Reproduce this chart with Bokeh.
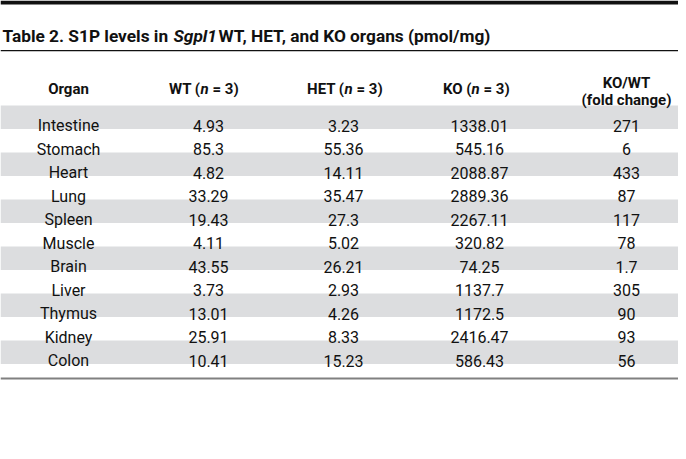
from bokeh.plotting import figure
from bokeh.models import ColumnDataSource, Range1d
from bokeh.core.properties import value
from bokeh.embed import file_html
from bokeh.resources import INLINE

# ---- data ----
organs = ["Intestine", "Stomach", "Heart", "Lung", "Spleen", "Muscle",
          "Brain", "Liver", "Thymus", "Kidney", "Colon"]
wt = [4.93, 85.3, 4.82, 33.29, 19.43, 4.11, 43.55, 3.73, 13.01, 25.91, 10.41]
het = [3.23, 55.36, 14.11, 35.47, 27.3, 5.02, 26.21, 2.93, 4.26, 8.33, 15.23]
ko = [1338.01, 545.16, 2088.87, 2889.36, 2267.11, 320.82, 74.25, 1137.7,
      1172.5, 2416.47, 586.43]
fold = [271, 6, 433, 87, 117, 78, 1.7, 305, 90, 93, 56]

title_parts = ["Table 2. S1P levels in", "Sgpl1", "WT, HET, and KO organs (pmol/mg)"]
header_plain = ["Organ"]
header_n = [("WT (", "n", "= 3)"), ("HET (", "n", "= 3)"), ("KO (", "n", "= 3)")]
header_fold = ["KO/WT", "(fold change)"]

# ---- layout (pixel-like coordinates) ----
FONT = value("Roboto")
TXT = "#111111"
W, H = 678, 443
col_x = [68, 208, 343, 479, 626]
n_anchor = [200, 344, 471]
row0_base = 125
row_h = 23.5
band0_top = 105

p = figure(width=W, height=H, x_range=Range1d(0, W), y_range=Range1d(H, 0),
           output_backend="svg", toolbar_location=None, min_border=0)
p.axis.visible = False
p.grid.visible = False
p.outline_line_color = None
p.background_fill_color = "white"
p.border_fill_color = "white"

# top thick bar, thin rule, bottom rule
p.quad(left=[0], right=[W], top=[0], bottom=[4], fill_color="#111111", line_color=None)
p.quad(left=[0], right=[W], top=[49.5], bottom=[50.7], fill_color="#111111", line_color=None)
p.quad(left=[0], right=[W], top=[377], bottom=[379], fill_color="#808080", line_color=None)

# shaded bands on alternate rows
nrows = len(organs)
band_idx = [i for i in range(nrows) if i % 2 == 0]
p.quad(left=[0] * len(band_idx), right=[W] * len(band_idx),
       top=[band0_top + row_h * i for i in band_idx],
       bottom=[band0_top + row_h * (i + 1) for i in band_idx],
       fill_color="#dcdddf", line_color=None)

# title
tb = 35
TS = "17.3px"
p.text(x=[2], y=[tb], text=[title_parts[0]], text_font=FONT, text_font_size=TS,
       text_font_style="bold", text_align="left", text_baseline="alphabetic", text_color=TXT)
p.text(x=[173], y=[tb], text=[title_parts[1]], text_font=FONT, text_font_size=TS,
       text_font_style="bold italic", text_align="left", text_baseline="alphabetic", text_color=TXT)
p.text(x=[218], y=[tb], text=[title_parts[2]], text_font=FONT, text_font_size=TS,
       text_font_style="bold", text_align="left", text_baseline="alphabetic", text_color=TXT)

# headers
hb = 88
p.text(x=[col_x[0]], y=[hb], text=header_plain, text_font=FONT, text_font_size="15px",
       text_font_style="bold", text_align="center", text_baseline="alphabetic", text_color=TXT)
for (pre, nn, suf), a in zip(header_n, n_anchor):
    p.text(x=[a], y=[hb], text=[pre], text_font=FONT, text_font_size="15px",
           text_font_style="bold", text_align="right", text_baseline="alphabetic", text_color=TXT)
    p.text(x=[a], y=[hb], text=[nn], text_font=FONT, text_font_size="15px",
           text_font_style="bold italic", text_align="left", text_baseline="alphabetic", text_color=TXT)
    p.text(x=[a + 12], y=[hb], text=[suf], text_font=FONT, text_font_size="15px",
           text_font_style="bold", text_align="left", text_baseline="alphabetic", text_color=TXT)
p.text(x=[col_x[4], col_x[4]], y=[82, 99], text=header_fold, text_font=FONT,
       text_font_size="15px", text_font_style="bold", text_align="center",
       text_baseline="alphabetic", text_color=TXT)

# body
ys = [row0_base + row_h * i for i in range(nrows)]
cols = [organs, [str(v) for v in wt], [str(v) for v in het],
        [str(v) for v in ko], [str(v) for v in fold]]
for cx, vals in zip(col_x, cols):
    src = ColumnDataSource(dict(x=[cx] * nrows, y=ys, t=vals))
    p.text(x="x", y="y", text="t", source=src, text_font=FONT, text_font_size="16px",
           text_align="center", text_baseline="alphabetic", text_color=TXT)

open("out.html", "w").write(file_html(p, INLINE))
